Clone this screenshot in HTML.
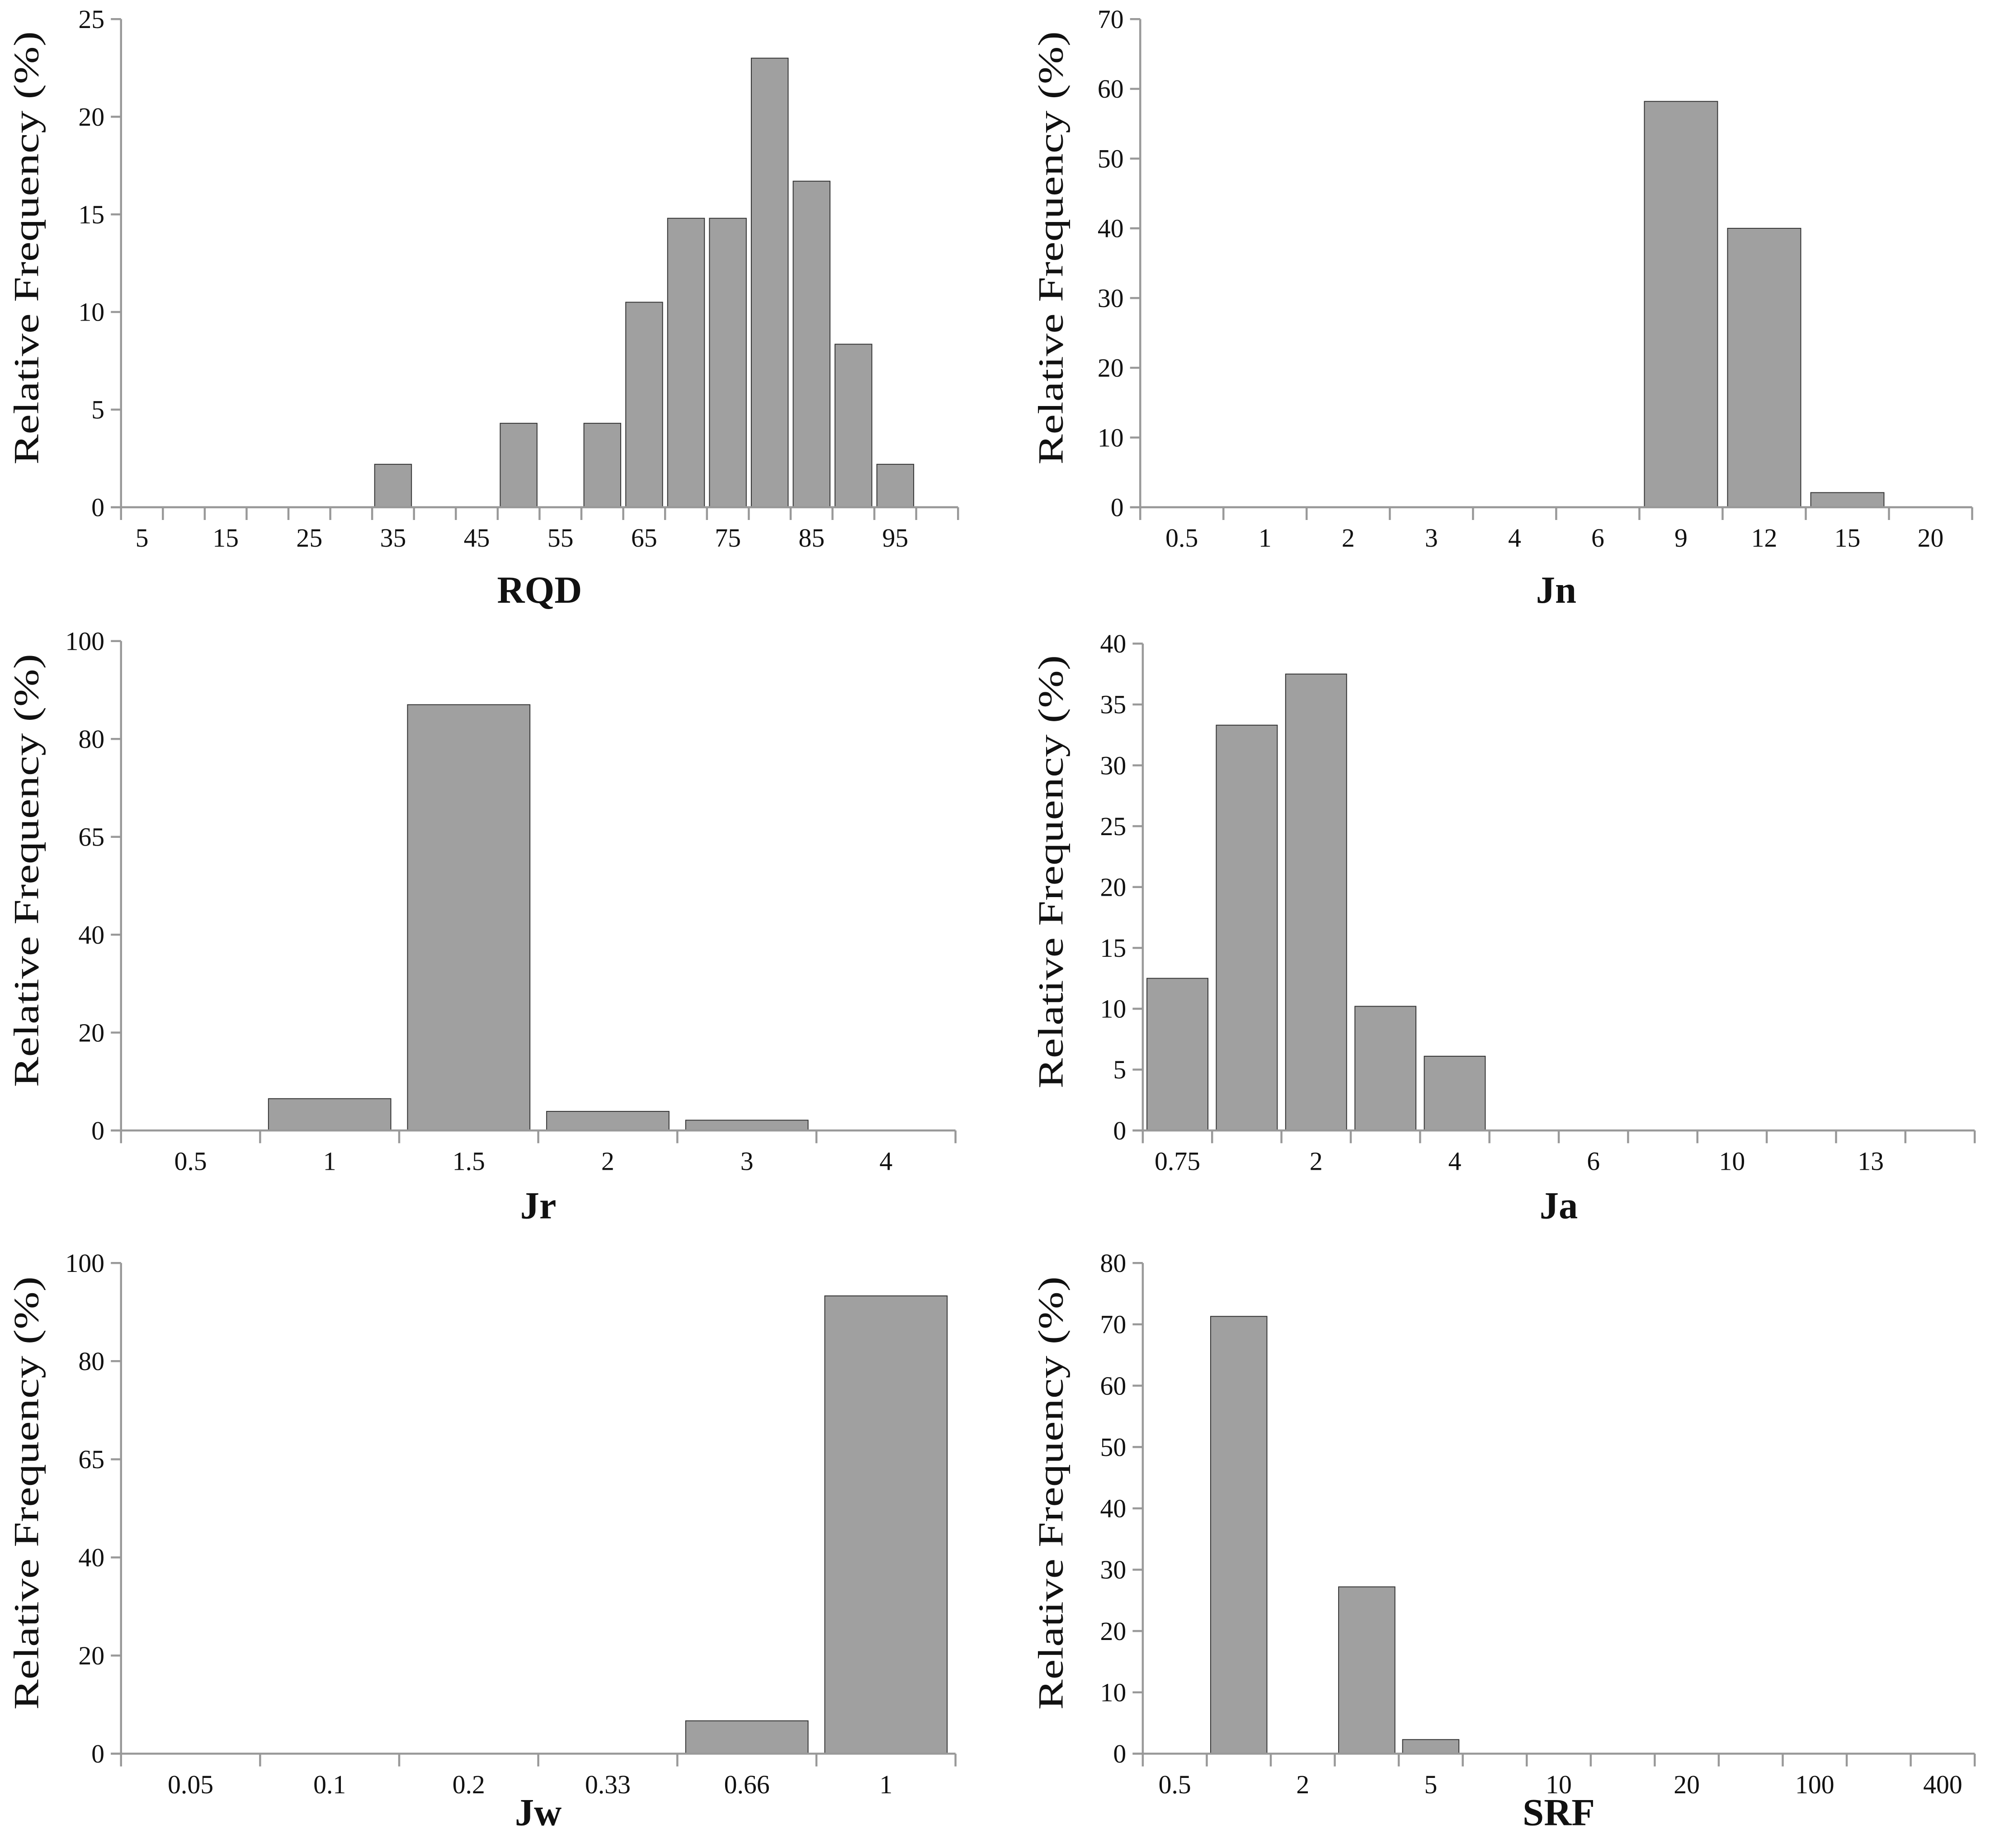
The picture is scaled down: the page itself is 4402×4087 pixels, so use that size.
<!DOCTYPE html>
<html><head><meta charset="utf-8"><style>
html,body{margin:0;padding:0;background:#fff;}
svg{display:block;}
text{font-family:"Liberation Serif",serif;fill:#111;}
</style></head><body>
<svg id="fig" width="4402" height="4087" viewBox="0 0 1562 1450" preserveAspectRatio="none" xmlns="http://www.w3.org/2000/svg"></svg>
<script>
// RQD
const rqdCats = ["5","10","15","20","25","30","35","40","45","50","55","60","65","70","75","80","85","90","95","100"];
const rqdShow = [1,0,1,0,1,0,1,0,1,0,1,0,1,0,1,0,1,0,1,0];
const rqdVals = [0,0,0,0,0,0,2.2,0,0,4.3,0,4.3,10.5,14.8,14.8,23,16.7,8.35,2.2,0];
const rqdTicks = [0,5,10,15,20,25];
const rqdTickLabels = ["0","5","10","15","20","25"];
// Jn
const jnCats = ["0.5","1","2","3","4","6","9","12","15","20"];
const jnVals = [0,0,0,0,0,0,58.2,40,2.1,0];
const jnTicks = [0,10,20,30,40,50,60,70];
const jnTickLabels = ["0","10","20","30","40","50","60","70"];
// Jr
const jrCats = ["0.5","1","1.5","2","3","4"];
const jrVals = [0,6.5,87,3.9,2.1,0];
const jrTicks = [0,20,40,60,80,100];
const jrTickLabels = ["0","20","40","65","80","100"];
// Ja
const jaCats = ["0.75","1","2","3","4","5","6","8","10","12","13","20"];
const jaShow = [1,0,1,0,1,0,1,0,1,0,1,0];
const jaVals = [12.5,33.3,37.5,10.2,6.1,0,0,0,0,0,0,0];
const jaTicks = [0,5,10,15,20,25,30,35,40];
const jaTickLabels = ["0","5","10","15","20","25","30","35","40"];
// Jw
const jwCats = ["0.05","0.1","0.2","0.33","0.66","1"];
const jwVals = [0,0,0,0,6.7,93.3];
const jwTicks = [0,20,40,60,80,100];
const jwTickLabels = ["0","20","40","65","80","100"];
// SRF
const srfCats = ["0.5","1","2","2.5","5","7.5","10","15","20","50","100","200","400"];
const srfShow = [1,0,1,0,1,0,1,0,1,0,1,0,1];
const srfVals = [0,71.3,0,27.2,2.3,0,0,0,0,0,0,0,0];
const srfTicks = [0,10,20,30,40,50,60,70,80];
const srfTickLabels = ["0","10","20","30","40","50","60","70","80"];

const NS="http://www.w3.org/2000/svg";
const svg=document.getElementById('fig');
function mk(tag,attrs,parent){const e=document.createElementNS(NS,tag);for(const k in attrs)e.setAttribute(k,attrs[k]);(parent||svg).appendChild(e);return e;}

function panel(name,cfg,cats,show,vals,ticks,tickLabels){
  const g=mk('g',{});
  
  
  const x0=cfg.x0,x1=cfg.x1,yTop=cfg.yTop,y0=cfg.y0,ymax=ticks[ticks.length-1];
  const n=cats.length,bw=(x1-x0)/n;
  const xs=i=>x0+i*bw;
  const ys=v=>y0-(v/ymax)*(y0-yTop);
  vals.forEach((v,i)=>{
    if(v<=0)return;
    const r=mk('rect',{x:xs(i)+bw*0.06,y:ys(v),width:bw*0.88,height:y0-ys(v),fill:'#a0a0a0',stroke:'#333','stroke-width':0.7},g);
    
    
  });
  const ya=mk('line',{x1:x0,y1:yTop,x2:x0,y2:y0+1,stroke:'#999','stroke-width':1.6},g);
  
  
  const xa=mk('line',{x1:x0-8,y1:y0,x2:x1,y2:y0,stroke:'#999','stroke-width':1.6},g);
  
  
  ticks.forEach((t,i)=>{
    mk('line',{x1:x0-8,y1:ys(t),x2:x0,y2:ys(t),stroke:'#999','stroke-width':1.6},g);
    const tx=mk('text',{x:x0-13,y:ys(t)+7,'text-anchor':'end','font-size':20.5},g);
    tx.textContent=tickLabels[i];
    
    
  });
  for(let i=0;i<=n;i++){mk('line',{x1:xs(i),y1:y0,x2:xs(i),y2:y0+10,stroke:'#999','stroke-width':1.6},g);}
  cats.forEach((c,i)=>{
    if(show && !show[i])return;
    const tx=mk('text',{x:xs(i)+bw/2,y:y0+31,'text-anchor':'middle','font-size':20.5},g);
    tx.textContent=c;
    
    
  });
  const xt=mk('text',{x:(x0+x1)/2,y:y0+cfg.tOff,'text-anchor':'middle','font-size':30,'font-weight':'bold'},g);
  xt.textContent=cfg.title;
  
  
  const cy=(yTop+y0)/2-12;
  const yt=mk('text',{x:cfg.ytx,y:cy,'text-anchor':'middle','font-size':28,textLength:340,lengthAdjust:'spacingAndGlyphs',transform:`rotate(-90 ${cfg.ytx} ${cy})`},g);
  yt.textContent='Relative Frequency (%)';
  
  
}
panel('rqd',{x0:95,x1:752,yTop:15,y0:398,title:'RQD',ytx:30,tOff:75},rqdCats,rqdShow,rqdVals,rqdTicks,rqdTickLabels);
panel('jn',{x0:895,x1:1548,yTop:15,y0:398,title:'Jn',ytx:834,tOff:75},jnCats,null,jnVals,jnTicks,jnTickLabels);
panel('jr',{x0:95,x1:750,yTop:503,y0:887,title:'Jr',ytx:30,tOff:69},jrCats,null,jrVals,jrTicks,jrTickLabels);
panel('ja',{x0:897,x1:1550,yTop:505,y0:887,title:'Ja',ytx:834,tOff:69},jaCats,jaShow,jaVals,jaTicks,jaTickLabels);
panel('jw',{x0:95,x1:750,yTop:991,y0:1376,title:'Jw',ytx:30,tOff:56},jwCats,null,jwVals,jwTicks,jwTickLabels);
panel('srf',{x0:897,x1:1550,yTop:991,y0:1376,title:'SRF',ytx:834,tOff:56},srfCats,srfShow,srfVals,srfTicks,srfTickLabels);
</script>
</body></html>
